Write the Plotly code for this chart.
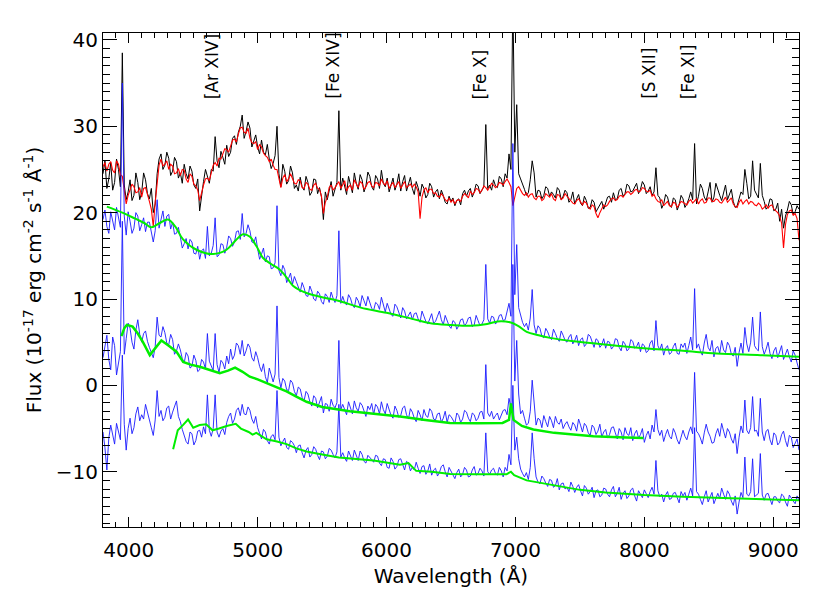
import plotly.graph_objects as go

# wavelength grid (Angstrom): main samples every 30 A, plus in-between samples at +15 A
lam = list(range(3800, 9201, 30))
lam_mid = list(range(3815, 9200, 30))

black = [
    24.5, 22.8, 25.8, 23.5, 25.0, 38.5, 21.5, 23.8, 22.0, 23.5,
    22.3, 23.8, 21.6, 20.0, 24.5, 26.8, 25.5, 26.3, 24.8, 25.9,
    24.6, 25.6, 23.9, 24.8, 22.8, 20.2, 23.6, 24.3, 25.0, 28.8,
    25.2, 26.4, 27.8, 27.0, 28.9, 29.3, 31.3, 29.4, 29.8, 28.3,
    27.6, 28.4, 26.7, 26.2, 25.7, 30.0, 23.0, 24.8, 23.7, 24.6,
    23.2, 24.1, 22.6, 23.5, 22.4, 23.8, 22.9, 19.2, 21.5, 23.6,
    22.7, 31.8, 24.0, 22.1, 23.4, 24.6, 22.7, 23.8, 23.1, 24.2,
    22.6, 23.9, 24.9, 23.0, 22.4, 24.0, 23.3, 22.5, 24.3, 23.4,
    22.8, 23.6, 21.9, 22.8, 22.1, 23.0, 22.4, 21.6, 22.0, 21.0,
    21.3, 20.8, 21.6, 22.2, 21.9, 22.8, 22.4, 23.1, 22.6, 30.2,
    23.2, 23.8, 22.9, 23.9, 24.5, 26.8, 45.0, 32.5, 23.9, 22.7,
    22.3, 26.0, 21.8, 22.5, 22.0, 22.8, 22.4, 21.7, 22.6, 21.9,
    22.3, 21.5, 21.0, 22.1, 20.8, 21.4, 20.6, 21.2, 20.5, 21.3,
    21.0, 21.9, 22.3, 21.6, 22.8, 22.2, 23.1, 22.5, 23.4, 22.7,
    23.2, 22.5, 22.0, 25.2, 21.7, 21.0, 21.8, 20.6, 21.5, 20.9,
    21.6, 21.0, 22.4, 28.0, 21.9, 22.8, 21.4, 23.5, 21.8, 22.6,
    21.4, 23.2, 22.0, 21.3, 20.8, 22.4, 25.0, 21.6, 26.0, 22.1,
    25.7, 21.3, 20.7, 21.5, 20.4, 19.0, 18.2, 20.3, 20.9, 20.1,
    20.4]
black_mid = [
    26.0, 23.9, 22.6, 26.2, 23.0, 23.2, 22.4, 21.4, 24.6, 21.5,
    24.6, 22.2, 22.8, 21.0, 26.2, 25.0, 27.0, 24.3, 26.4, 24.0,
    23.4, 24.5, 25.4, 23.2, 23.9, 22.1, 25.0, 23.4, 24.8, 26.0,
    27.1, 25.6, 26.5, 28.6, 27.9, 30.0, 28.6, 30.5, 27.6, 29.0,
    26.8, 27.0, 27.9, 25.1, 26.6, 24.5, 25.6, 23.3, 25.4, 22.8,
    22.5, 23.0, 24.2, 22.0, 23.9, 22.2, 21.8, 22.4, 22.8, 21.9,
    23.5, 22.6, 23.0, 24.2, 22.3, 23.4, 24.4, 22.4, 24.7, 23.0,
    24.3, 22.8, 23.4, 24.0, 23.4, 22.6, 24.5, 23.6, 22.5, 24.1,
    22.1, 22.9, 23.3, 21.7, 23.4, 21.8, 22.7, 22.6, 21.2, 21.9,
    21.7, 21.4, 20.9, 22.6, 22.5, 21.8, 23.3, 22.2, 23.0, 22.8,
    22.6, 23.1, 24.2, 23.0, 24.0, 25.0, 27.0, 24.5, 23.4, 22.0,
    23.8, 24.6, 22.6, 21.6, 23.0, 21.9, 22.1, 22.9, 21.5, 22.6,
    21.2, 22.4, 21.6, 21.1, 21.9, 20.5, 21.5, 20.1, 20.9, 20.4,
    21.8, 21.2, 21.5, 22.6, 21.9, 23.3, 22.4, 22.9, 22.2, 23.6,
    22.2, 23.0, 22.4, 22.0, 20.5, 22.1, 20.9, 21.7, 20.3, 22.0,
    20.6, 21.6, 21.5, 21.0, 23.3, 21.8, 22.4, 21.2, 23.4, 22.0,
    22.2, 21.5, 22.7, 20.6, 21.8, 22.1, 23.4, 21.9, 22.6, 21.7,
    22.0, 20.4, 21.6, 20.2, 21.1, 20.4, 19.6, 21.3, 19.8, 20.8]

red = [
    25.3, 24.8, 25.9, 24.6, 25.6, 24.2, 21.0, 22.6, 23.0, 22.4,
    21.8, 22.9, 21.3, 18.4, 23.6, 26.2, 25.6, 25.0, 25.4, 24.6,
    24.3, 24.9, 23.5, 24.2, 23.1, 21.4, 23.2, 24.0, 24.6, 25.8,
    26.3, 26.8, 27.3, 27.7, 28.5, 29.1, 29.9, 29.2, 28.6, 28.0,
    27.3, 27.6, 26.6, 25.9, 25.5, 25.0, 22.9, 24.4, 23.9, 24.0,
    23.3, 23.7, 22.8, 23.3, 22.6, 23.4, 22.7, 19.9, 21.8, 23.2,
    22.9, 23.6, 23.3, 22.5, 23.2, 23.8, 22.9, 23.4, 23.0, 23.6,
    22.9, 23.4, 23.9, 23.2, 22.8, 23.5, 23.2, 22.8, 23.6, 23.1,
    22.9, 23.0, 19.3, 22.6, 22.3, 22.7, 22.3, 21.8, 21.9, 21.3,
    21.2, 21.0, 21.5, 21.9, 22.0, 22.5, 22.3, 22.7, 22.6, 22.9,
    23.0, 23.2, 23.1, 23.4, 23.6, 23.5, 20.8, 22.8, 22.6, 22.0,
    21.8, 22.2, 21.5, 21.9, 21.6, 22.0, 22.2, 21.4, 22.0, 21.7,
    21.9, 21.4, 21.0, 21.6, 20.9, 21.1, 20.4, 20.7, 19.4, 20.5,
    20.7, 21.3, 21.7, 21.5, 22.0, 22.1, 22.4, 22.3, 22.7, 22.5,
    22.8, 22.4, 21.9, 21.6, 21.2, 20.8, 21.3, 20.7, 21.1, 20.9,
    21.2, 20.9, 21.5, 21.3, 21.0, 21.6, 21.2, 21.7, 21.3, 21.5,
    21.1, 21.8, 21.4, 21.0, 20.6, 21.5, 21.3, 21.0, 21.2, 20.8,
    20.9, 20.6, 20.5, 20.9, 20.2, 19.6, 15.9, 19.8, 20.3, 19.9,
    16.8]
red_mid = [
    25.8, 25.6, 24.9, 26.0, 24.4, 22.3, 22.0, 23.3, 22.3, 22.9,
    22.8, 21.9, 20.4, 21.2, 25.5, 25.4, 26.0, 25.6, 24.5, 25.1,
    25.0, 23.9, 24.5, 23.3, 22.6, 22.5, 23.9, 23.7, 25.5, 25.4,
    26.2, 27.4, 27.0, 28.4, 28.2, 29.8, 29.3, 29.8, 28.1, 28.2,
    27.9, 26.9, 26.4, 26.2, 25.0, 23.8, 24.0, 23.6, 24.5, 23.4,
    23.8, 22.9, 23.5, 22.7, 23.2, 22.8, 21.9, 21.2, 22.9, 22.6,
    23.3, 22.8, 23.7, 23.0, 22.6, 23.3, 23.6, 22.7, 23.5, 23.1,
    23.5, 23.1, 23.4, 23.7, 23.2, 22.9, 23.6, 23.3, 22.9, 23.3,
    23.3, 22.4, 21.8, 22.9, 22.7, 22.2, 21.9, 22.2, 21.5, 21.7,
    21.5, 21.4, 21.3, 22.2, 21.7, 22.1, 22.8, 22.3, 23.1, 22.6,
    23.4, 22.9, 23.5, 23.2, 23.9, 23.0, 21.9, 23.0, 22.2, 22.3,
    22.1, 21.7, 21.9, 21.4, 22.2, 21.8, 21.6, 22.1, 21.5, 22.2,
    21.6, 21.1, 21.4, 21.2, 21.3, 20.6, 20.9, 19.9, 20.0, 20.9,
    20.9, 21.6, 21.4, 21.9, 21.8, 22.4, 22.1, 22.6, 22.4, 22.9,
    22.5, 22.6, 22.1, 21.3, 21.5, 21.0, 20.8, 21.2, 20.6, 21.3,
    21.0, 21.3, 21.1, 21.6, 21.4, 21.1, 21.7, 21.3, 21.6, 21.2,
    21.5, 21.2, 21.7, 20.7, 21.2, 21.0, 21.5, 21.3, 20.9, 21.1,
    20.4, 20.9, 20.8, 20.4, 20.0, 18.8, 18.6, 20.2, 19.7, 19.3]

blue_top = [
    19.2, 18.4, 20.1, 18.0, 19.5, 35.0, 17.4, 19.0, 18.2, 19.6,
    18.6, 17.8, 18.9, 16.6, 21.5, 19.3, 18.4, 19.8, 18.9, 17.6,
    17.2, 16.4, 15.8, 16.6, 15.2, 14.6, 15.8, 18.4, 15.3, 19.4,
    15.1, 16.3, 16.0, 17.0, 16.6, 17.9, 19.9, 17.6, 17.9, 16.5,
    15.8, 15.2, 14.3, 14.9, 13.6, 20.8, 12.7, 13.4, 12.4, 11.7,
    12.0, 10.8, 11.3, 10.3, 10.9, 9.8, 10.6, 9.4, 10.3, 10.8,
    9.6, 17.9, 10.3, 9.3, 10.1, 9.0, 9.8, 10.4, 9.2, 9.7,
    8.7, 9.4, 10.2, 8.5, 8.9, 8.0, 9.1, 7.8, 8.6, 8.2,
    7.6, 8.4, 7.3, 8.0, 7.1, 8.3, 7.4, 8.6, 7.0, 7.5,
    6.6, 7.3, 6.9, 7.7, 7.2, 7.9, 7.0, 7.5, 7.1, 14.0,
    7.2, 7.9, 7.4, 8.2, 7.6, 9.5, 28.0, 16.3, 8.0, 6.8,
    6.4, 11.1, 6.0, 6.6, 5.5, 6.2, 5.3, 6.0, 5.1, 5.8,
    5.0, 5.9, 5.2, 4.6, 5.5, 4.8, 5.7, 4.4, 5.2, 4.7,
    4.3, 5.0, 4.5, 5.3, 4.0, 4.8, 4.2, 5.1, 4.5, 3.9,
    4.6, 4.0, 5.2, 7.5, 4.1, 3.5, 4.6, 3.8, 4.9, 3.6,
    4.4, 3.7, 5.6, 11.2, 4.8, 3.5, 5.9, 4.0, 3.3, 4.5,
    5.2, 3.8, 4.6, 3.4, 2.2, 4.9, 6.7, 3.9, 7.9, 4.2,
    8.5, 3.6, 5.0, 3.1, 4.4, 3.8, 3.0, 4.2, 2.7, 3.5,
    1.8]
blue_top_mid = [
    20.3, 17.6, 18.8, 20.6, 18.3, 19.6, 20.1, 17.6, 20.0, 17.9,
    19.4, 18.9, 17.5, 17.9, 18.2, 20.2, 19.6, 18.1, 17.5, 18.3,
    15.9, 17.0, 16.9, 15.3, 16.1, 15.6, 14.7, 15.0, 16.2, 14.9,
    16.4, 15.3, 17.3, 16.1, 17.8, 16.9, 17.2, 18.6, 16.6, 17.2,
    14.6, 15.9, 15.0, 13.5, 14.2, 13.3, 13.9, 11.9, 13.0, 12.6,
    11.5, 11.9, 10.4, 11.5, 10.0, 10.9, 9.7, 10.6, 9.6, 10.1,
    10.4, 9.5, 9.6, 10.5, 9.3, 10.2, 9.1, 9.8, 10.3, 8.9,
    9.6, 8.8, 9.3, 9.5, 8.2, 9.4, 8.5, 9.0, 7.7, 8.5,
    8.3, 7.7, 8.6, 7.4, 7.8, 7.2, 8.0, 7.6, 8.1, 6.9,
    7.5, 6.5, 7.6, 6.9, 7.8, 6.8, 8.1, 6.9, 7.6, 7.7,
    8.0, 7.1, 8.1, 7.5, 8.4, 8.0, 10.5, 9.0, 7.3, 7.2,
    7.8, 7.0, 6.9, 5.7, 6.6, 5.6, 6.5, 5.4, 6.3, 5.2,
    5.6, 4.8, 5.8, 5.3, 4.5, 5.9, 4.9, 5.4, 4.4, 5.4,
    5.1, 4.2, 5.4, 4.4, 5.1, 4.0, 5.3, 4.3, 5.0, 4.8,
    3.8, 4.9, 4.0, 4.6, 4.8, 4.3, 3.6, 4.5, 3.7, 4.8,
    4.9, 4.6, 4.1, 4.3, 4.0, 4.9, 4.4, 5.2, 4.3, 3.7,
    4.1, 5.0, 3.6, 4.4, 3.8, 3.7, 4.8, 5.0, 4.6, 4.0,
    4.5, 4.2, 3.7, 4.0, 3.2, 4.6, 3.7, 3.3, 4.0, 2.6]

blue_mid = [
    3.2, 5.8, 1.8, 4.6, 2.5, 19.0, 5.4, 6.6, 4.2, 7.6,
    5.0, 6.3, 4.4, 3.2, 7.9, 5.6, 6.1, 4.7, 5.3, 4.0,
    4.1, 2.6, 3.4, 2.2, 2.9, 1.8, 2.7, 6.0, 2.3, 6.0,
    1.5, 2.6, 3.4, 4.2, 3.5, 4.6, 5.2, 4.0, 4.4, 2.8,
    3.2, 1.6, 1.0, 2.0, 0.4, 9.2, -0.3, 0.5, -0.6, 0.3,
    -1.2, -0.4, -1.8, -1.0, -2.4, -1.5, -2.0, -3.2, -2.2, -1.6,
    -2.6, 5.2, -2.2, -3.4, -2.5, -1.8, -3.0, -2.3, -3.6, -2.8,
    -3.4, -2.5, -1.9, -3.3, -2.7, -3.8, -2.9, -3.5, -2.4, -3.9,
    -3.1, -4.2, -3.4, -2.8, -3.7, -3.0, -4.0, -3.2, -3.8, -4.3,
    -3.6, -4.4, -3.5, -3.9, -3.1, -4.2, -3.4, -3.8, -3.0, 2.4,
    -3.6, -3.9, -3.2, -3.5, -2.8, -1.5, 14.0, 5.2, -3.3, -3.8,
    -4.4, 0.6, -4.6, -4.0, -3.5, -4.8, -4.1, -3.6, -4.5, -5.0,
    -4.2, -5.2, -4.6, -3.9, -5.4, -4.7, -5.8, -4.9, -5.3, -6.0,
    -5.1, -5.7, -4.8, -6.2, -5.4, -4.9, -5.8, -6.4, -5.2, -5.7,
    -6.6, -5.3, -4.6, -2.8, -5.8, -6.5, -5.1, -6.2, -5.5, -6.8,
    -5.2, -6.3, -4.8, 1.5, -5.6, -6.8, -4.5, -5.9, -6.6, -5.0,
    -4.4, -6.1, -5.4, -6.7, -7.9, -4.7, -1.7, -5.6, -1.3, -5.2,
    -1.5, -6.4, -5.1, -6.9, -5.8, -6.6, -5.3, -7.1, -6.0, -6.7,
    -7.5]
blue_mid_mid = [
    4.4, 3.0, 5.6, 1.2, 3.9, 3.6, 7.2, 5.0, 6.4, 5.9,
    6.0, 5.1, 3.7, 4.5, 5.8, 6.8, 4.9, 5.9, 3.6, 4.8,
    3.1, 3.8, 2.0, 3.5, 1.6, 3.0, 1.9, 2.8, 1.7, 2.4,
    2.9, 1.9, 2.5, 3.0, 4.9, 3.6, 3.4, 4.8, 3.2, 3.9,
    2.2, 2.5, 0.3, 1.1, 1.3, 0.9, 0.8, -0.5, 0.6, -0.7,
    -0.2, -1.4, -0.7, -1.9, -1.2, -2.6, -1.3, -2.1, -3.0, -2.3,
    -2.0, -2.8, -2.9, -1.9, -3.3, -2.6, -2.0, -3.1, -2.4, -2.1,
    -2.2, -3.3, -2.8, -2.1, -3.5, -2.4, -3.7, -2.6, -3.4, -2.7,
    -3.8, -2.9, -4.1, -3.5, -2.7, -3.9, -3.3, -4.3, -3.0, -3.4,
    -4.0, -3.2, -4.3, -2.9, -3.8, -3.2, -4.1, -3.1, -3.9, -3.2,
    -3.0, -3.5, -4.0, -2.9, -3.4, -2.6, 0.5, -1.0, -2.9, -4.6,
    -3.0, -2.5, -3.8, -4.9, -4.2, -3.6, -4.9, -4.3, -3.9, -4.5,
    -4.8, -4.3, -5.3, -4.6, -4.4, -5.5, -4.6, -5.7, -4.5, -5.4,
    -6.1, -4.9, -5.5, -5.0, -6.3, -5.6, -4.9, -5.6, -6.1, -5.0,
    -5.8, -6.2, -5.4, -5.1, -5.2, -5.7, -5.9, -5.0, -6.3, -6.0,
    -5.9, -5.4, -5.6, -5.3, -6.1, -5.5, -5.4, -6.7, -5.6, -5.9,
    -5.3, -5.0, -6.2, -5.6, -6.0, -5.5, -5.2, -4.9, -5.3, -5.9,
    -5.4, -5.3, -6.3, -5.5, -6.9, -5.7, -6.4, -5.8, -7.2, -6.2]

blue_bot = [
    -5.4, -9.8, -4.6, -6.8, -5.2, 3.5, -7.5, -3.8, -4.9, -2.5,
    -3.4, -2.2, -3.8, -5.8, -0.6, -2.9, -3.7, -2.4, -3.1, -1.8,
    -4.2, -5.8, -6.8, -5.6, -6.4, -5.2, -4.8, -1.1, -5.9, -1.1,
    -6.0, -5.0, -4.3, -3.2, -3.9, -2.6, -2.2, -3.4, -2.9, -4.4,
    -4.9, -6.2, -5.4, -6.8, -5.7, -0.6, -7.0, -6.1, -7.4, -6.6,
    -7.8, -6.9, -8.4, -7.2, -8.0, -7.4, -8.6, -7.7, -8.2, -7.5,
    -8.4, -2.2, -7.8, -8.8, -8.1, -7.5, -8.7, -8.0, -9.0, -8.3,
    -8.9, -8.2, -9.3, -8.6, -9.6, -8.8, -9.4, -8.5, -9.8, -9.0,
    -9.5, -8.9, -10.2, -9.3, -9.9, -10.4, -9.6, -10.1, -9.2, -10.6,
    -10.0, -10.8, -9.7, -10.3, -9.8, -10.5, -9.4, -10.2, -9.9, -5.5,
    -10.3, -9.6, -10.4, -9.9, -9.5, -8.0, 0.0, -6.0, -9.7, -10.6,
    -10.9, -5.5, -10.6, -11.4, -10.8, -11.7, -11.0, -11.6, -12.1, -11.3,
    -11.8, -11.2, -12.4, -11.5, -12.8, -11.9, -12.3, -13.0, -12.1, -12.7,
    -12.0, -12.9, -11.7, -12.5, -13.2, -12.2, -12.8, -11.9, -13.4, -12.6,
    -12.1, -13.0, -11.8, -8.7, -12.9, -13.5, -12.3, -13.1, -12.4, -13.6,
    -12.8, -13.3, -11.9, -4.9, -12.6, -13.8, -12.2, -13.0, -13.7, -12.5,
    -11.9, -13.2, -12.6, -13.9, -14.9, -12.4, -8.3, -12.8, -8.5, -12.7,
    -7.9, -13.3, -12.5, -13.8, -12.9, -13.6, -12.8, -14.0, -13.1, -13.7,
    -13.3]
blue_bot_mid = [
    -7.2, -6.1, -5.8, -4.4, -6.3, -4.5, -5.0, -5.6, -3.3, -4.1,
    -3.9, -3.0, -4.9, -4.0, -3.6, -4.1, -2.6, -3.9, -2.5, -3.6,
    -5.1, -6.5, -5.4, -6.9, -5.3, -6.0, -5.6, -5.2, -5.0, -5.4,
    -5.3, -5.7, -3.6, -4.4, -2.9, -3.5, -3.3, -2.5, -3.9, -3.6,
    -5.6, -5.1, -6.4, -5.9, -6.3, -6.0, -6.5, -7.2, -6.4, -7.0,
    -7.0, -7.8, -7.5, -8.3, -7.1, -8.1, -7.6, -8.5, -7.3, -8.0,
    -7.7, -8.3, -8.4, -7.6, -8.7, -8.2, -7.6, -8.8, -8.1, -8.6,
    -8.1, -9.0, -8.5, -9.5, -8.4, -9.7, -8.6, -9.3, -8.8, -9.9,
    -9.8, -9.6, -9.4, -10.3, -9.1, -9.8, -10.5, -9.4, -10.0, -9.5,
    -10.4, -10.1, -10.6, -9.5, -10.6, -9.8, -10.4, -9.6, -10.5, -10.0,
    -9.8, -10.2, -9.5, -10.6, -9.9, -9.2, -7.5, -8.5, -10.2, -10.1,
    -9.5, -8.5, -11.2, -10.5, -11.3, -10.9, -11.8, -10.8, -11.4, -12.0,
    -12.3, -11.7, -11.8, -12.2, -11.6, -12.6, -11.8, -12.2, -12.9, -11.9,
    -12.6, -12.1, -12.9, -11.8, -12.5, -13.1, -12.1, -12.8, -12.2, -13.0,
    -12.5, -12.3, -12.6, -12.2, -12.6, -12.7, -13.2, -12.5, -13.0, -12.3,
    -12.4, -12.6, -12.8, -12.3, -13.2, -12.9, -13.5, -12.4, -13.0, -13.1,
    -12.6, -12.2, -13.4, -12.8, -13.5, -13.0, -12.6, -12.3, -12.9, -12.5,
    -12.7, -12.6, -13.3, -12.9, -13.4, -12.6, -13.5, -12.7, -13.4, -12.8]

# smooth model fits (green)
g1_lam = [3830, 3950, 4050, 4120, 4175, 4240, 4305, 4360, 4421, 4525, 4654, 4758,
          4830, 4887, 4940, 4991, 5042, 5110, 5172, 5230, 5276, 5330, 5379, 5500,
          5625, 5800, 6000, 6200, 6341, 6500, 6648, 6780, 6860, 6958, 7020, 7087,
          7180, 7268, 7450, 7656, 7850, 8044, 8300, 8562, 8900, 9200]
g1_val = [20.7, 20.0, 19.3, 18.8, 18.3, 18.8, 19.2, 18.4, 16.9, 15.7, 15.2, 15.7,
          16.8, 17.5, 17.2, 16.1, 14.75, 14.0, 13.4, 12.4, 11.5, 11.0, 10.7, 10.2,
          9.8, 9.0, 8.4, 7.7, 7.2, 7.0, 6.9, 7.1, 7.4, 7.3, 6.9, 6.2,
          5.8, 5.5, 5.1, 4.8, 4.5, 4.25, 4.0, 3.7, 3.5, 3.3]

g2_lam = [3943, 3965, 3985, 4030, 4070, 4110, 4163, 4210, 4253, 4310, 4370, 4422,
          4480, 4551, 4630, 4706, 4770, 4825, 4880, 4939, 5000, 5069, 5150, 5224,
          5300, 5379, 5500, 5715, 5900, 6104, 6300, 6492, 6700, 6900, 6950, 6965,
          6985, 7050, 7139, 7300, 7450, 7604, 7800, 7993]
g2_val = [5.7, 6.6, 7.0, 6.8, 6.0, 5.0, 3.5, 4.4, 5.2, 4.6, 3.9, 2.7,
          2.4, 2.15, 1.8, 1.4, 1.7, 2.05, 1.6, 1.0, 0.7, 0.25, -0.3, -0.7,
          -1.3, -1.9, -2.5, -3.0, -3.3, -3.6, -4.0, -4.35, -4.4, -4.35, -4.0, -2.1,
          -4.0, -4.7, -5.1, -5.5, -5.7, -5.9, -6.0, -6.1]

g3_lam = [4344, 4380, 4420, 4460, 4500, 4550, 4600, 4650, 4700, 4760, 4830, 4870,
          4930, 4960, 4990, 5020, 5069, 5150, 5224, 5300, 5379, 5500, 5630, 5900,
          6104, 6170, 6230, 6350, 6494, 6700, 6930, 6965, 6990, 7087, 7300, 7500,
          7700, 8000, 8300, 8562, 8900, 9200]
g3_val = [-7.4, -5.2, -4.6, -3.95, -4.9, -4.6, -4.5, -5.2, -5.0, -4.7, -4.45, -5.0,
          -5.4, -5.7, -5.5, -5.8, -6.25, -6.5, -6.8, -7.3, -7.65, -8.0, -8.35, -8.7,
          -9.2, -9.0, -9.9, -10.0, -10.25, -10.3, -10.3, -10.0, -10.4, -11.0, -11.6, -12.1,
          -12.4, -12.7, -12.9, -13.0, -13.15, -13.3]

ion_names = ['[Ar XIV]', '[Fe XIV]', '[Fe X]', '[S XII]', '[Fe XI]']
ion_wave = [4647, 5589, 6727, 8037, 8336]


def merge(main_x, main_y, mid_x, mid_y):
    xs, ys = [], []
    for i in range(len(main_x)):
        xs.append(main_x[i]); ys.append(main_y[i])
        if i < len(mid_x):
            xs.append(mid_x[i]); ys.append(mid_y[i])
    return xs, ys


FONT = 'DejaVu Sans'
BLUE = '#1a1aff'
GREEN = '#00ee00'

fig = go.Figure()
for (yv, ym, col, w) in [(black, black_mid, 'black', 1.0),
                         (red, red_mid, '#ff0000', 1.1),
                         (blue_top, blue_top_mid, BLUE, 0.9),
                         (blue_mid, blue_mid_mid, BLUE, 0.9),
                         (blue_bot, blue_bot_mid, BLUE, 0.9)]:
    xs, ys = merge(lam, yv, lam_mid, ym)
    fig.add_trace(go.Scatter(x=xs, y=ys, mode='lines', line=dict(color=col, width=w)))

fig.add_trace(go.Scatter(x=g1_lam, y=g1_val, mode='lines', line=dict(color=GREEN, width=2, shape='spline')))
fig.add_trace(go.Scatter(x=g2_lam, y=g2_val, mode='lines', line=dict(color=GREEN, width=2.5)))
fig.add_trace(go.Scatter(x=g3_lam, y=g3_val, mode='lines', line=dict(color=GREEN, width=2)))

for name, w in zip(ion_names, ion_wave):
    fig.add_annotation(x=w, xref='x', y=0.862, yref='paper', text=name, showarrow=False,
                       textangle=-90, xanchor='center', yanchor='bottom',
                       font=dict(family=FONT, size=17, color='black'))

axis_common = dict(showline=True, linecolor='black', linewidth=1, mirror='ticks',
                   ticks='inside', tickcolor='black', tickwidth=1, automargin=False,
                   showgrid=False, zeroline=False,
                   tickfont=dict(family=FONT, size=20, color='black'))

fig.update_xaxes(range=[3800, 9200], tick0=0, dtick=1000, ticklen=10, ticklabelstandoff=5,
                 minor=dict(ticks='inside', ticklen=5, dtick=100, tickcolor='black', showgrid=False),
                 title=dict(text='Wavelength (Å)', font=dict(family=FONT, size=20, color='black'), standoff=7),
                 **axis_common)
fig.update_yaxes(range=[-16.4, 40.8], tick0=0, dtick=10, ticklen=14,
                 minor=dict(ticks='inside', ticklen=7, dtick=1, tickcolor='black', showgrid=False),
                 title=dict(text='Flux (10<sup>-17</sup> erg cm<sup>-2</sup> s<sup>-1</sup> Å<sup>-1</sup>)',
                            font=dict(family=FONT, size=20, color='black'), standoff=8),
                 **axis_common)

# the page body adds an 8 px offset, so the figure is 822x585 with margins shifted accordingly
fig.update_layout(width=822, height=585, showlegend=False,
                  margin=dict(l=95, r=31, t=25, b=66),
                  plot_bgcolor='white', paper_bgcolor='white')

fig.write_html('out.html')
